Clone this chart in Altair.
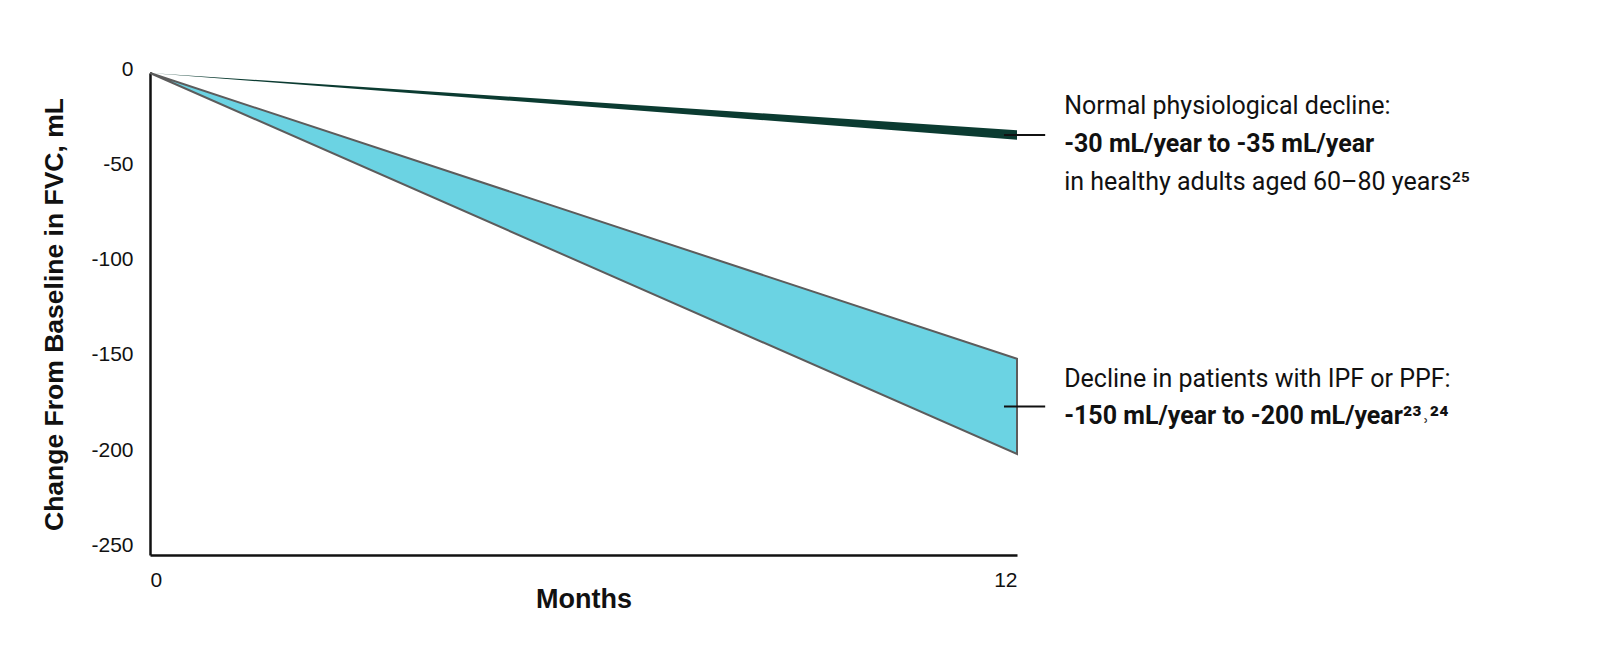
import altair as alt
import pandas as pd

# ---- data ----
months = [0, 12]
normal_top = [0, -30]
normal_bottom = [0, -35]
ipf_top = [0, -150]
ipf_bottom = [0, -200]
y_ticks = [0, -50, -100, -150, -200, -250]
x_ticks = [0, 12]

# annotation leader lines (value space)
ann_x_start = [11.82, 11.82]
ann_x_end = [12.39, 12.39]
ann_y = [-32.5, -175]

normal_lines = ["Normal physiological decline:",
                "-30 mL/year to -35 mL/year",
                "in healthy adults aged 60\u201380 years\u00b2\u2075"]
ipf_lines = ["Decline in patients with IPF or PPF:",
             "-150 mL/year to -200 mL/year\u00b2\u00b3\u02d2\u00b2\u2074"]

df = pd.DataFrame({"month": months, "normal_top": normal_top, "normal_bottom": normal_bottom,
                   "ipf_top": ipf_top, "ipf_bottom": ipf_bottom})
ann = pd.DataFrame({"x0": ann_x_start, "x1": ann_x_end, "y": ann_y})

AXIS_FONT = "Liberation Sans"
TEXT_FONT = "Roboto"

xscale = alt.Scale(domain=[0, 12], nice=False, zero=False)
yscale = alt.Scale(domain=[-253, 0], nice=False, zero=False)

xaxis = alt.Axis(values=x_ticks, title="Months", ticks=False, grid=False,
                 labelExpr="'' + datum.value",
                 domainColor="#111", domainWidth=2.5, labelFont=AXIS_FONT, labelFontSize=21,
                 labelColor="#111", labelPadding=14, titleFont=AXIS_FONT, titleFontSize=27,
                 titleFontWeight="bold", titleColor="#111", titleBaseline="alphabetic", titleY=52)
yaxis = alt.Axis(values=y_ticks, title="Change From Baseline in FVC, mL", ticks=False, grid=False,
                 labelExpr="'' + datum.value",
                 domainColor="#111", domainWidth=2.5, labelFont=AXIS_FONT, labelFontSize=21,
                 labelColor="#111", labelPadding=17, labelOffset=-4, titleFont=AXIS_FONT,
                 titleFontSize=26.5, titleFontWeight="bold", titleColor="#111",
                 titleBaseline="alphabetic", titleX=-88)

base = alt.Chart(df)

ipf_area = base.mark_area(color="#6bd3e3", stroke="#5c5c5c", strokeWidth=2, opacity=1).encode(
    x=alt.X("month:Q", scale=xscale, axis=xaxis),
    y=alt.Y("ipf_top:Q", scale=yscale, axis=yaxis),
    y2="ipf_bottom:Q",
)
normal_area = base.mark_area(color="#0b3b31", opacity=1).encode(
    x=alt.X("month:Q", scale=xscale),
    y=alt.Y("normal_top:Q", scale=yscale),
    y2="normal_bottom:Q",
)

leaders = alt.Chart(ann).mark_rule(color="#111", strokeWidth=2).encode(
    x=alt.X("x0:Q", scale=xscale), x2="x1:Q", y=alt.Y("y:Q", scale=yscale)
)

text_layers = []
def add_text(lines, yv, dys, weights):
    for line, dy, w in zip(lines, dys, weights):
        t = alt.Chart(pd.DataFrame({"x": [ann_x_end[0]], "y": [yv], "t": [line]})).mark_text(
            align="left", baseline="middle", dx=19, dy=dy, font=TEXT_FONT, fontSize=25,
            fontWeight=w, color="#111"
        ).encode(x=alt.X("x:Q", scale=xscale), y=alt.Y("y:Q", scale=yscale), text="t:N")
        text_layers.append(t)

add_text(normal_lines, ann_y[0], [-29, 9, 47], ["normal", "bold", "normal"])
add_text(ipf_lines, ann_y[1], [-27, 10], ["normal", "bold"])

chart = alt.layer(ipf_area, normal_area, leaders, *text_layers).properties(
    width=867, height=482,
    autosize=alt.AutoSizeParams(type="none"),
    padding={"left": 142, "top": 65, "right": 585, "bottom": 75},
).configure(background="white").configure_view(stroke=None, strokeWidth=0)

chart.save("out.html", embed_options={"renderer": "svg", "actions": False})
